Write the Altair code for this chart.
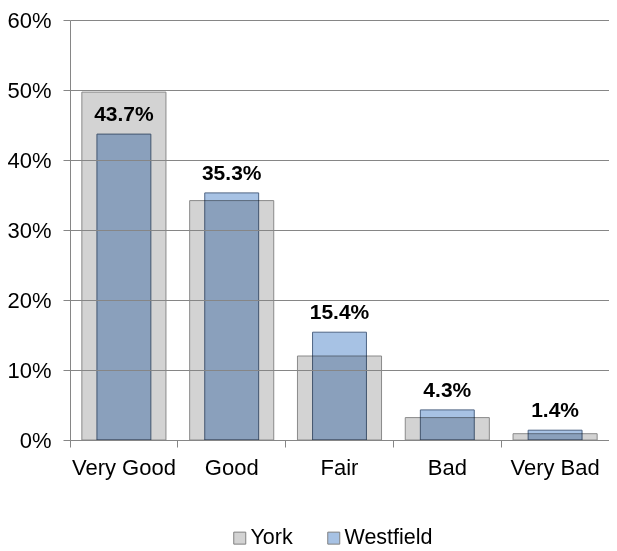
import altair as alt
import pandas as pd

categories = ["Very Good", "Good", "Fair", "Bad", "Very Bad"]
york = [49.7, 34.2, 12.0, 3.2, 0.9]
westfield = [43.7, 35.3, 15.4, 4.3, 1.4]
series = ["York", "Westfield"]

rows = []
for c, y, w in zip(categories, york, westfield):
    rows.append({"category": c, "series": "York", "value": y})
    rows.append({"category": c, "series": "Westfield", "value": w})
df = pd.DataFrame(rows)

FONT = "Liberation Sans"

x_enc = alt.X("category:N", sort=categories, title=None,
              scale=alt.Scale(paddingInner=0, paddingOuter=0),
              axis=alt.Axis(labelAngle=0, bandPosition=0, tickSize=7, labelPadding=10,
                            domainColor="#868686", tickColor="#868686",
                            labelFontSize=22, labelColor="#000000", labelFont=FONT,
                            grid=False))
y_enc = alt.Y("value:Q", title=None,
              scale=alt.Scale(domain=[0, 60], nice=False),
              axis=alt.Axis(values=[0, 10, 20, 30, 40, 50, 60], labelExpr="datum.value + '%'",
                            tickSize=7, labelPadding=12, grid=True, gridColor="#868686",
                            domainColor="#868686", tickColor="#868686",
                            labelFontSize=22, labelColor="#000000", labelFont=FONT, zindex=1))
color_enc = alt.Color("series:N", sort=series,
                      scale=alt.Scale(domain=series, range=["#d3d3d3", "#a7c2e4"]),
                      legend=alt.Legend(title=None, orient="none", direction="horizontal",
                                        legendX=159, legendY=507, symbolType="square",
                                        symbolSize=144, symbolStrokeColor="#808080",
                                        symbolStrokeWidth=1, labelFontSize=21.5, labelFont=FONT,
                                        labelColor="#000000", columnPadding=30, labelOffset=0))

base = alt.Chart(df)

york_bars = base.transform_filter(alt.datum.series == "York").mark_bar(
    width=alt.RelativeBandSize(0.78), stroke="#8a8a8a", strokeWidth=1
).encode(x=x_enc, y=y_enc, color=color_enc)

west_bars = base.transform_filter(alt.datum.series == "Westfield").mark_bar(
    width=alt.RelativeBandSize(0.5), stroke="#4f6584", strokeWidth=1, blend="multiply"
).encode(x=x_enc, y=y_enc, color=color_enc)

labels = base.transform_filter(alt.datum.series == "Westfield").transform_calculate(
    label="format(datum.value, '.1f') + '%'"
).mark_text(baseline="alphabetic", dy=-13, fontSize=21, fontWeight="bold", font=FONT, color="#000000"
).encode(x=alt.X("category:N", sort=categories), y="value:Q", text="label:N")

chart = alt.layer(york_bars, west_bars, labels).properties(
    width=539, height=420,
    autosize=alt.AutoSizeParams(type="none"),
    padding={"left": 62, "top": 12, "right": 0, "bottom": 111},
).configure_view(stroke=None)

chart.save("out.html", embed_options={"renderer": "svg", "actions": False})
